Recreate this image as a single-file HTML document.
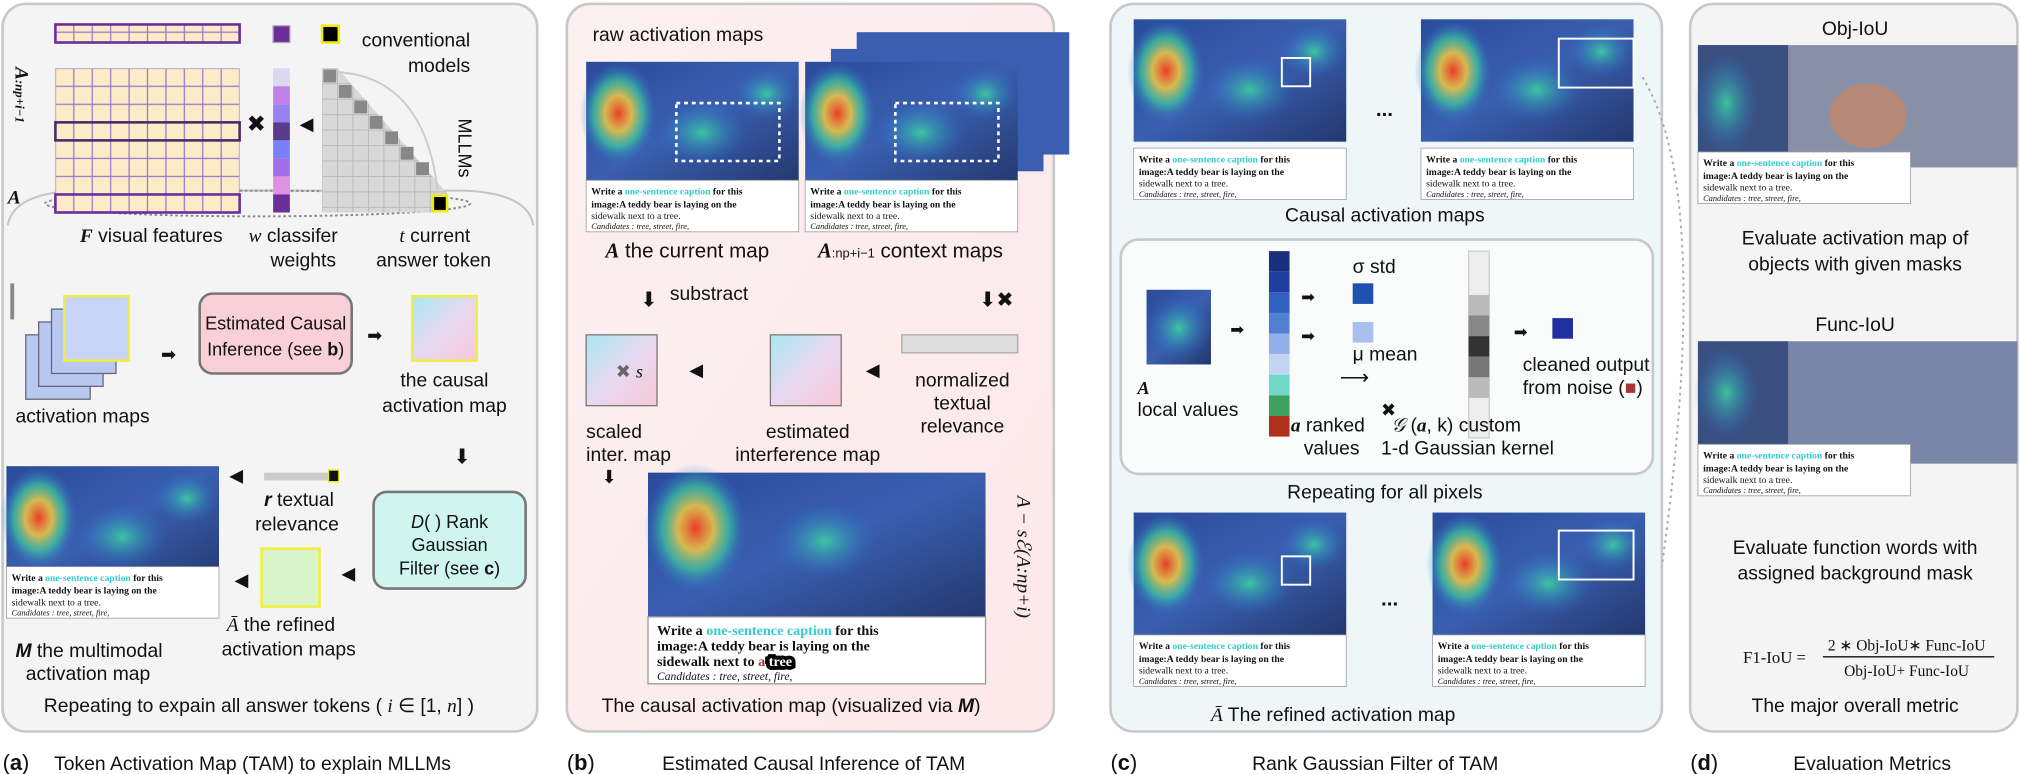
<!DOCTYPE html>
<html><head><meta charset="utf-8"><style>
html,body{margin:0;padding:0;background:#fff;width:2020px;height:774px;overflow:hidden}
svg{display:block}
text{font-family:"Liberation Sans",sans-serif;fill:#111}
.s{font-family:"Liberation Serif",serif}
</style></head><body>
<svg width="2020" height="774" viewBox="0 0 1568 601" preserveAspectRatio="none" xmlns="http://www.w3.org/2000/svg">
<defs>
<radialGradient id="hot" cx="50%" cy="50%" r="50%"><stop offset="0" stop-color="#ff3a1a" stop-opacity=".9"/><stop offset=".35" stop-color="#ffd23a" stop-opacity=".8"/><stop offset=".65" stop-color="#3ee0a0" stop-opacity=".6"/><stop offset="1" stop-color="#2a6fd8" stop-opacity="0"/></radialGradient>
<radialGradient id="cool" cx="50%" cy="50%" r="50%"><stop offset="0" stop-color="#3ee0a0" stop-opacity=".8"/><stop offset="1" stop-color="#2a6fd8" stop-opacity="0"/></radialGradient>
<linearGradient id="base" x1="0" y1="0" x2="1" y2="1"><stop offset="0" stop-color="#2b4a9a"/><stop offset=".5" stop-color="#3a5fb0"/><stop offset="1" stop-color="#23386e"/></linearGradient>
<linearGradient id="pnk" x1="0" y1="0" x2="1" y2="1"><stop offset="0" stop-color="#a8e8f0"/><stop offset=".5" stop-color="#e8d8f0"/><stop offset="1" stop-color="#f8c8d8"/></linearGradient>
<linearGradient id="bgb" x1="0" y1="0" x2="1" y2="1"><stop offset="0" stop-color="#fbf0f0"/><stop offset="1" stop-color="#fde8ea"/></linearGradient>
<pattern id="grid" width="14.3" height="14" patternUnits="userSpaceOnUse" x="43" y="53"><rect width="14.3" height="14" fill="#fdebc8" stroke="#9a7ad0" stroke-width="1"/></pattern>
<pattern id="gcell" width="12" height="12" patternUnits="userSpaceOnUse" x="250" y="53"><rect width="12" height="12" fill="#d8d8d8" stroke="#bbb" stroke-width=".8"/></pattern>
<g id="heat"><rect width="165" height="95" fill="url(#base)"/><ellipse cx="25" cy="40" rx="30" ry="40" fill="url(#hot)"/><ellipse cx="90" cy="55" rx="35" ry="25" fill="url(#cool)"/><ellipse cx="140" cy="25" rx="25" ry="20" fill="url(#cool)"/></g>
<g id="cap"><rect width="165" height="40" fill="#fff" stroke="#999" stroke-width=".6"/><text x="4" y="11" font-size="7.5" class="s" font-weight="bold" fill="#223">Write a <tspan fill="#3cc">one-sentence caption</tspan> for this</text><text x="4" y="21" font-size="7.5" class="s" font-weight="bold" fill="#223">image:A teddy bear is laying on the</text><text x="4" y="30" font-size="7.5" class="s" fill="#3cc">sidewalk next to a tree.</text><text x="4" y="38" font-size="6.5" class="s" font-style="italic" fill="#555">Candidates : tree, street, fire,</text></g>
</defs>

<!-- Panel a -->
<g>
<rect x="2" y="3" width="415" height="565" rx="18" fill="#f4f4f4" stroke="#c8c8c8" stroke-width="2"/>
<path d="M6 175 Q10 150 60 148 L360 148 Q410 150 414 175" fill="none" stroke="#c4c4c4" stroke-width="1.5"/>
<ellipse cx="200" cy="158" rx="165" ry="10" fill="none" stroke="#888" stroke-width="1.5" stroke-dasharray="2 2"/>
<rect x="43" y="19" width="143" height="14" fill="url(#grid)" stroke="#6a2d9a" stroke-width="2"/>
<rect x="212" y="20" width="13" height="13" fill="#6a2d9a" stroke="#aaa"/>
<rect x="250" y="20" width="13" height="13" fill="#000" stroke="#ee0" stroke-width="2"/>
<text x="365" y="36" font-size="15" text-anchor="end">conventional</text>
<text x="365" y="56" font-size="15" text-anchor="end">models</text>
<rect x="43" y="53" width="143" height="112" fill="url(#grid)"/>
<rect x="43" y="95" width="143" height="14" fill="none" stroke="#4a2a6a" stroke-width="2"/>
<rect x="43" y="151" width="143" height="14" fill="none" stroke="#6a2d9a" stroke-width="2"/>
<g>
<rect x="212" y="53" width="13" height="14" fill="#dcd8f0"/><rect x="212" y="67" width="13" height="14" fill="#c080e8"/><rect x="212" y="81" width="13" height="14" fill="#9a80f0"/><rect x="212" y="95" width="13" height="14" fill="#5a3a8a"/><rect x="212" y="109" width="13" height="14" fill="#7a80f8"/><rect x="212" y="123" width="13" height="14" fill="#a070e8"/><rect x="212" y="137" width="13" height="14" fill="#e090e0"/><rect x="212" y="151" width="13" height="14" fill="#6a2d9a"/>
</g>
<polygon points="250,53 262,53 348,151 348,165 250,165" fill="url(#gcell)"/>
<path d="M262 56 Q330 60 340 150" fill="none" stroke="#ccc" stroke-width="1.5"/>
<g fill="#888"><rect x="251" y="54" width="10" height="10"/><rect x="263" y="66" width="10" height="10"/><rect x="275" y="78" width="10" height="10"/><rect x="287" y="90" width="10" height="10"/><rect x="299" y="102" width="10" height="10"/><rect x="311" y="114" width="10" height="10"/><rect x="323" y="126" width="10" height="10"/></g>
<rect x="336" y="152" width="11" height="12" fill="#000" stroke="#ee0" stroke-width="2"/>
<text x="199" y="102" font-size="18" fill="#777" text-anchor="middle">✖</text>
<text x="238" y="101" font-size="14" fill="#777" text-anchor="middle">◀</text>
<text x="356" y="92" font-size="14" transform="rotate(90 356 92)">MLLMs</text>
<text x="12" y="52" font-size="15" class="s" font-style="italic" font-weight="bold" transform="rotate(90 12 52)">A<tspan font-size="10">:np+i−1</tspan></text>
<text x="6" y="158" font-size="15" class="s" font-style="italic" font-weight="bold">A</text>
<text x="62" y="188" font-size="15"><tspan class="s" font-style="italic" font-weight="bold">F</tspan> visual features</text>
<text x="193" y="188" font-size="15"><tspan class="s" font-style="italic">w</tspan>   classifer</text><text x="210" y="207" font-size="15">weights</text>
<text x="310" y="188" font-size="15"><tspan class="s" font-style="italic">t</tspan>    current</text><text x="292" y="207" font-size="15">answer token</text>
<rect x="8" y="220" width="3" height="28" fill="#888"/>
<g>
<rect x="20" y="260" width="50" height="50" fill="#b8c8f0" stroke="#667"/><rect x="30" y="250" width="50" height="50" fill="#b8c8f0" stroke="#667"/><rect x="40" y="240" width="50" height="50" fill="#b8c8f0" stroke="#667"/><rect x="50" y="230" width="50" height="50" fill="#c8d4f8" stroke="#ee4" stroke-width="2"/>
</g>
<text x="12" y="328" font-size="15">activation maps</text>
<text x="125" y="280" font-size="14" fill="#777">➡</text>
<rect x="155" y="228" width="118" height="62" rx="10" fill="#f9d0d8" stroke="#777" stroke-width="2"/>
<text x="214" y="256" font-size="14" text-anchor="middle">Estimated Causal</text>
<text x="214" y="276" font-size="14" text-anchor="middle">Inference (see <tspan font-weight="bold">b</tspan>)</text>
<text x="285" y="265" font-size="14" fill="#777">➡</text>
<rect x="320" y="230" width="50" height="50" fill="url(#pnk)" stroke="#ee4" stroke-width="2"/>
<text x="345" y="300" font-size="15" text-anchor="middle">the causal</text><text x="345" y="320" font-size="15" text-anchor="middle">activation map</text>
<text x="352" y="360" font-size="16" fill="#777">⬇</text>
<rect x="290" y="382" width="118" height="75" rx="10" fill="#d0f4f0" stroke="#777" stroke-width="2"/>
<text x="349" y="410" font-size="14" text-anchor="middle"><tspan font-style="italic">D</tspan>( ) Rank</text>
<text x="349" y="428" font-size="14" text-anchor="middle">Gaussian</text>
<text x="349" y="446" font-size="14" text-anchor="middle">Filter (see <tspan font-weight="bold">c</tspan>)</text>
<rect x="205" y="367" width="50" height="6" fill="#ccc"/><rect x="255" y="365" width="8" height="9" fill="#111" stroke="#ee0"/>
<text x="178" y="374" font-size="14" fill="#777">◀</text>
<text x="205" y="393" font-size="15"><tspan font-weight="bold" font-style="italic">r</tspan> textual</text>
<text x="198" y="412" font-size="15">relevance</text>
<rect x="203" y="426" width="45" height="45" fill="#d8f4c8" stroke="#ee4" stroke-width="2"/>
<text x="265" y="450" font-size="14" fill="#777">◀</text>
<text x="176" y="490" font-size="15"><tspan class="s" font-style="italic">Ā</tspan> the refined</text>
<text x="172" y="509" font-size="15">activation maps</text>
<text x="182" y="455" font-size="14" fill="#777">◀</text>
<use href="#heat" x="5" y="362"/>
<use href="#cap" x="5" y="440"/>
<text x="12" y="510" font-size="15"><tspan font-weight="bold" font-style="italic">M</tspan> the multimodal</text>
<text x="20" y="528" font-size="15">activation map</text>
<text x="34" y="553" font-size="15">Repeating to expain all answer tokens ( <tspan class="s" font-style="italic">i</tspan> ∈ [1, <tspan class="s" font-style="italic">n</tspan>] )</text>
</g>

<!-- Panel b -->
<g>
<rect x="440" y="3" width="378" height="565" rx="18" fill="url(#bgb)" stroke="#c8c8c8" stroke-width="2"/>
<text x="460" y="32" font-size="15">raw activation maps</text>
<use href="#heat" x="455" y="48"/><use href="#cap" x="455" y="140"/>
<rect x="665" y="25" width="165" height="95" fill="#3a5fb0"/><rect x="645" y="38" width="165" height="95" fill="#3a5fb0"/>
<use href="#heat" x="625" y="48"/><use href="#cap" x="625" y="140"/>
<rect x="525" y="80" width="80" height="45" fill="none" stroke="#fff" stroke-dasharray="3 3" stroke-width="2"/>
<rect x="695" y="80" width="80" height="45" fill="none" stroke="#fff" stroke-dasharray="3 3" stroke-width="2"/>
<text x="470" y="200" font-size="16"><tspan class="s" font-style="italic" font-weight="bold">A</tspan> the current map</text>
<text x="635" y="200" font-size="16"><tspan class="s" font-style="italic" font-weight="bold">A</tspan><tspan font-size="10">:np+i−1</tspan> context maps</text>
<text x="497" y="238" font-size="16" fill="#777">⬇</text><text x="520" y="233" font-size="15">substract</text>
<text x="760" y="238" font-size="16" fill="#777">⬇✖</text>
<rect x="455" y="260" width="55" height="55" fill="url(#pnk)" stroke="#777"/>
<text x="478" y="293" font-size="14"><tspan fill="#666">✖</tspan> <tspan class="s" font-style="italic">s</tspan></text>
<text x="535" y="292" font-size="14" fill="#777">◀</text>
<rect x="598" y="260" width="55" height="55" fill="url(#pnk)" stroke="#777"/>
<text x="672" y="292" font-size="14" fill="#777">◀</text>
<rect x="700" y="260" width="90" height="14" fill="#ddd" stroke="#aaa"/>
<text x="455" y="340" font-size="15">scaled</text><text x="455" y="358" font-size="15">inter. map</text>
<text x="627" y="340" font-size="15" text-anchor="middle">estimated</text><text x="627" y="358" font-size="15" text-anchor="middle">interference map</text>
<text x="747" y="300" font-size="15" text-anchor="middle">normalized</text><text x="747" y="318" font-size="15" text-anchor="middle">textual</text><text x="747" y="336" font-size="15" text-anchor="middle">relevance</text>
<text x="467" y="375" font-size="14" fill="#777">⬇</text>
<rect x="503" y="367" width="262" height="112" fill="url(#base)"/>
<ellipse cx="540" cy="410" rx="40" ry="50" fill="url(#hot)"/><ellipse cx="640" cy="420" rx="40" ry="30" fill="url(#cool)"/>
<rect x="503" y="479" width="262" height="52" fill="#fff" stroke="#999"/>
<text x="510" y="493" font-size="11" class="s" font-weight="bold" fill="#223">Write a <tspan fill="#3cc">one-sentence caption</tspan> for this</text>
<text x="510" y="505" font-size="11" class="s" font-weight="bold" fill="#223">image:A teddy bear is laying on the</text>
<text x="510" y="517" font-size="11" class="s" font-weight="bold" fill="#3cc">sidewalk next to <tspan fill="#a33">a</tspan> <tspan fill="#fff" style="paint-order:stroke" stroke="#000" stroke-width="6">tree</tspan></text>
<text x="510" y="528" font-size="9" class="s" font-style="italic" fill="#444">Candidates : tree, street, fire,</text>
<text x="790" y="385" font-size="15" class="s" font-style="italic" transform="rotate(90 790 385)">A − sℰ(A:np+i)</text>
<text x="467" y="553" font-size="15">The causal activation map (visualized via <tspan font-weight="bold" font-style="italic">M</tspan>)</text>
</g>

<!-- Panel c -->
<g>
<rect x="862" y="3" width="428" height="565" rx="18" fill="#eef6f8" stroke="#c8c8c8" stroke-width="2"/>
<use href="#heat" x="880" y="15"/><use href="#cap" x="880" y="115"/>
<use href="#heat" x="1103" y="15"/><use href="#cap" x="1103" y="115"/>
<rect x="995" y="45" width="22" height="22" fill="none" stroke="#fff" stroke-width="1.5"/>
<rect x="1210" y="30" width="58" height="38" fill="none" stroke="#fff" stroke-width="1.5"/>
<text x="1068" y="90" font-size="16" font-weight="bold">...</text>
<text x="1075" y="172" font-size="15" text-anchor="middle">Causal activation maps</text>
<rect x="870" y="186" width="413" height="182" rx="14" fill="#fafcfc" stroke="#c8c8c8" stroke-width="2"/>
<rect x="890" y="225" width="50" height="58" fill="url(#base)"/><ellipse cx="915" cy="255" rx="25" ry="25" fill="url(#cool)"/>
<text x="883" y="306" font-size="14" class="s" font-weight="bold" font-style="italic">A</text>
<text x="883" y="323" font-size="15">local values</text>
<text x="955" y="260" font-size="13" fill="#777">➡</text>
<g>
<rect x="985" y="195" width="16" height="16" fill="#1a2f80"/><rect x="985" y="211" width="16" height="16" fill="#2040a0"/><rect x="985" y="227" width="16" height="16" fill="#3060c0"/><rect x="985" y="243" width="16" height="16" fill="#5080d0"/><rect x="985" y="259" width="16" height="16" fill="#90b0e8"/><rect x="985" y="275" width="16" height="16" fill="#c0d4f4"/><rect x="985" y="291" width="16" height="16" fill="#70d8c8"/><rect x="985" y="307" width="16" height="16" fill="#40a060"/><rect x="985" y="323" width="16" height="16" fill="#b03020"/>
</g>
<text x="1010" y="235" font-size="13" fill="#777">➡</text><text x="1010" y="265" font-size="13" fill="#777">➡</text>
<text x="1050" y="212" font-size="15">σ std</text><rect x="1050" y="220" width="16" height="16" fill="#2050b0"/>
<rect x="1050" y="250" width="16" height="16" fill="#a8c0ec"/><text x="1050" y="280" font-size="15">μ mean</text>
<text x="1040" y="298" font-size="16" fill="#777">⟶</text><text x="1072" y="323" font-size="14" fill="#777">✖</text>
<rect x="1140" y="195" width="16" height="145" fill="#eee" stroke="#ccc"/>
<rect x="1140" y="229" width="16" height="16" fill="#bbb"/><rect x="1140" y="245" width="16" height="16" fill="#888"/><rect x="1140" y="261" width="16" height="16" fill="#333"/><rect x="1140" y="277" width="16" height="16" fill="#777"/><rect x="1140" y="293" width="16" height="16" fill="#bbb"/>
<text x="1175" y="262" font-size="13" fill="#777">➡</text>
<rect x="1205" y="247" width="16" height="16" fill="#2030a0"/>
<text x="1182" y="288" font-size="15">cleaned output</text><text x="1182" y="306" font-size="15">from noise (<tspan fill="#a33">■</tspan>)</text>
<text x="1002" y="335" font-size="15"><tspan class="s" font-weight="bold" font-style="italic">a</tspan>   ranked</text><text x="1012" y="353" font-size="15">values</text>
<text x="1080" y="335" font-size="15"><tspan class="s" font-style="italic">𝒢</tspan> (<tspan class="s" font-weight="bold" font-style="italic">a</tspan>, k) custom</text>
<text x="1072" y="353" font-size="15">1-d Gaussian kernel</text>
<text x="1075" y="387" font-size="15" text-anchor="middle">Repeating for all pixels</text>
<use href="#heat" x="880" y="398"/><use href="#cap" x="880" y="493"/>
<use href="#heat" x="1112" y="398"/><use href="#cap" x="1112" y="493"/>
<rect x="995" y="432" width="22" height="22" fill="none" stroke="#fff" stroke-width="1.5"/>
<rect x="1210" y="412" width="58" height="38" fill="none" stroke="#fff" stroke-width="1.5"/>
<text x="1072" y="470" font-size="16" font-weight="bold">...</text>
<text x="940" y="560" font-size="15"><tspan class="s" font-style="italic">Ā</tspan> The refined activation map</text>
</g>

<!-- Panel d -->
<g>
<rect x="1312" y="3" width="254" height="565" rx="18" fill="#f4f4f4" stroke="#c8c8c8" stroke-width="2"/>
<text x="1440" y="27" font-size="15" text-anchor="middle">Obj-IoU</text>
<rect x="1318" y="35" width="248" height="95" fill="#8890a8"/><rect x="1318" y="35" width="70" height="95" fill="#3a5080"/><ellipse cx="1340" cy="80" rx="25" ry="40" fill="url(#cool)"/><ellipse cx="1450" cy="90" rx="30" ry="25" fill="#e08040" opacity=".5"/>
<use href="#cap" x="1318" y="118"/>
<text x="1440" y="190" font-size="15" text-anchor="middle">Evaluate activation map of</text>
<text x="1440" y="210" font-size="15" text-anchor="middle">objects with given masks</text>
<text x="1440" y="257" font-size="15" text-anchor="middle">Func-IoU</text>
<rect x="1318" y="265" width="248" height="95" fill="#7a86a8"/><rect x="1318" y="265" width="70" height="95" fill="#3a5080"/><ellipse cx="1340" cy="305" rx="25" ry="35" fill="url(#cool)"/>
<use href="#cap" x="1318" y="345"/>
<text x="1440" y="430" font-size="15" text-anchor="middle">Evaluate function words with</text>
<text x="1440" y="450" font-size="15" text-anchor="middle">assigned background mask</text>
<text x="1353" y="515" font-size="13" class="s">F1-IoU =</text>
<text x="1480" y="505" font-size="12" class="s" text-anchor="middle">2 ∗ Obj-IoU∗ Func-IoU</text>
<line x1="1415" y1="510" x2="1548" y2="510" stroke="#111"/>
<text x="1480" y="525" font-size="12" class="s" text-anchor="middle">Obj-IoU+ Func-IoU</text>
<text x="1440" y="553" font-size="15" text-anchor="middle">The major overall metric</text>
</g>

<path d="M1275 60 Q1330 150 1290 440" fill="none" stroke="#aaa" stroke-width="1.5" stroke-dasharray="2 3"/>

<g>
<text x="2" y="598" font-size="17">(<tspan font-weight="bold">a</tspan>)</text><text x="42" y="598" font-size="15">Token Activation Map (TAM) to explain MLLMs</text>
<text x="440" y="598" font-size="17">(<tspan font-weight="bold">b</tspan>)</text><text x="514" y="598" font-size="15">Estimated Causal Inference of TAM</text>
<text x="862" y="598" font-size="17">(<tspan font-weight="bold">c</tspan>)</text><text x="972" y="598" font-size="15">Rank Gaussian Filter of TAM</text>
<text x="1312" y="598" font-size="17">(<tspan font-weight="bold">d</tspan>)</text><text x="1392" y="598" font-size="15">Evaluation Metrics</text>
</g>
</svg>
</body></html>
